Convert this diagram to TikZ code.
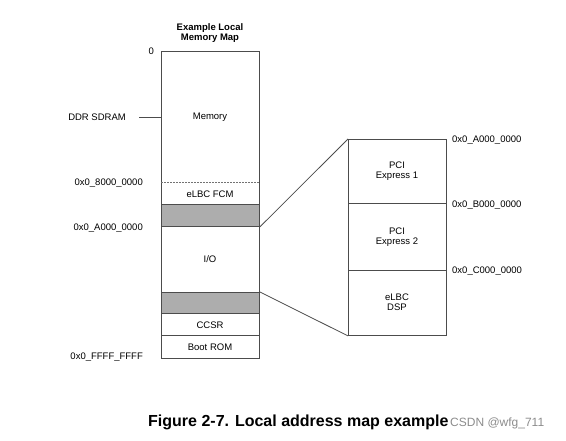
\documentclass[tikz,border=0pt]{standalone}
\usepackage{fontspec}
\setmainfont{Liberation Sans}
\begin{document}
\begin{tikzpicture}[x=1pt,y=-1pt,
  box/.style={draw=black!70,line width=0.9pt,inner sep=0pt,anchor=north west,minimum width=98pt},
  shade/.style={box,fill=black!32},
  txt/.style={font=\fontsize{9.5}{10}\selectfont,inner sep=0pt,align=center},
  addr/.style={txt,anchor=east},
  raddr/.style={txt,anchor=west},
  link/.style={draw=black!70,line width=0.8pt}]
\useasboundingbox (0,0) rectangle (566,441);
% title
\node[txt,font=\fontsize{9.5}{10}\selectfont\bfseries] (title) at (210,33) {Example Local\\Memory Map};
% main map
\node[box,minimum height=307pt] (map) at (161,51) {};
\node[shade,minimum height=22pt] (g1) at (161,204) {};
\node[shade,minimum height=21pt] (g2) at (161,292) {};
\coordinate (dl) at (161,182);
\coordinate (dr) at (259,182);
\draw[black!55,dash pattern=on 2pt off 1pt,line width=0.8pt] (dl) -- (dr);
\coordinate (sl) at (161,335);
\coordinate (sr) at (259,335);
\draw[black!70,line width=0.8pt] (sl) -- (sr);
\node[txt] (mem) at (210,117) {Memory};
\node[txt] (fcm) at (210,194) {eLBC FCM};
\node[txt] (io) at (210,259) {I/O};
\node[txt] (ccsr) at (210,325) {CCSR};
\node[txt] (boot) at (210,347) {Boot ROM};
% left labels
\node[addr] (zero) at (154,51) {0};
\node[addr] (ddr) at (126,117) {DDR SDRAM};
\draw[link] ([xshift=13pt]ddr.east) -- (ddr.east -| map.west);
\node[addr] (a8) at (143,183) {0x0\_8000\_0000};
\node[addr] (aa) at (143,228) {0x0\_A000\_0000};
\node[addr] (af) at (143,357) {0x0\_FFFF\_FFFF};
% right map
\node[box,minimum height=64pt] (p1) at (348,139) {};
\node[box,minimum height=67pt] (p2) at (348,203) {};
\node[box,minimum height=65pt] (dsp) at (348,270) {};
\node[txt] (p1t) at (397,171) {PCI\\Express 1};
\node[txt] (p2t) at (397,237) {PCI\\Express 2};
\node[txt] (dspt) at (397,302) {eLBC\\DSP};
\node[raddr] (ra) at (452,140) {0x0\_A000\_0000};
\node[raddr] (rb) at (452,205) {0x0\_B000\_0000};
\node[raddr] (rc) at (452,271) {0x0\_C000\_0000};
% connectors
\draw[link] (g1.south east) -- (p1.north west);
\draw[link] (g2.north east) -- (dsp.south west);
% caption
\node[anchor=west,inner sep=0pt,font=\fontsize{16}{18}\selectfont\bfseries] (cap) at (148,422) {Figure 2-7. Local address map example};
\node[anchor=west,inner sep=0pt,text=black!45,font=\fontsize{12}{14}\selectfont] (csdn) at (450,423) {CSDN @wfg\_711};
\end{tikzpicture}
\end{document}
